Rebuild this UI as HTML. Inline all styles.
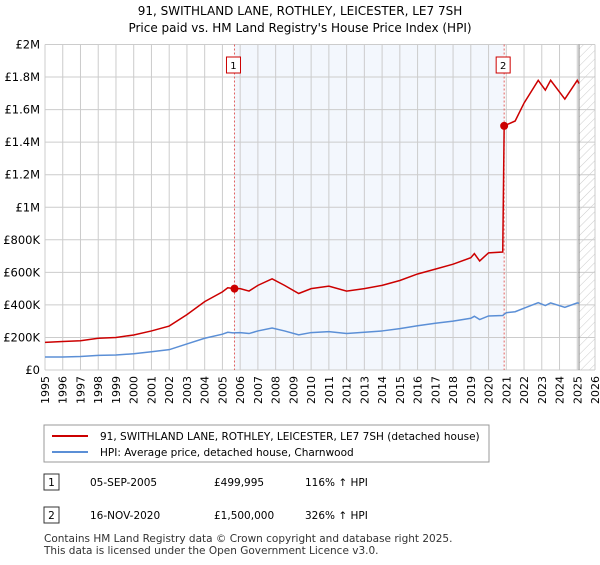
<!DOCTYPE html>
<html><head><meta charset="utf-8"><style>
body{margin:0;background:#fff;font-family:"Liberation Sans","DejaVu Sans",sans-serif;}
svg text{font-family:"DejaVu Sans","Liberation Sans",sans-serif;}
</style></head><body>
<svg id="c" width="600" height="560" xmlns="http://www.w3.org/2000/svg">
<defs><pattern id="hatch" width="6" height="6" patternUnits="userSpaceOnUse" patternTransform="rotate(45)"><line x1="0" y1="0" x2="0" y2="6" stroke="#ccc" stroke-width="1"/></pattern></defs>
<text x="300" y="15" text-anchor="middle" font-size="12">91, SWITHLAND LANE, ROTHLEY, LEICESTER, LE7 7SH</text>
<text x="300" y="32" text-anchor="middle" font-size="12">Price paid vs. HM Land Registry's House Price Index (HPI)</text>
<g id="plot"></g>
<rect x="44" y="425" width="445" height="37" fill="#fff" stroke="#999"/>
<line x1="52" y1="436" x2="88" y2="436" stroke="#cc0000" stroke-width="2"/>
<text x="100" y="440" font-size="10.5">91, SWITHLAND LANE, ROTHLEY, LEICESTER, LE7 7SH (detached house)</text>
<line x1="52" y1="452" x2="88" y2="452" stroke="#5b8fd6" stroke-width="2"/>
<text x="100" y="456" font-size="10.5">HPI: Average price, detached house, Charnwood</text>
<rect x="44" y="474" width="15" height="16" fill="#fff" stroke="#333"/>
<text x="51.5" y="486" text-anchor="middle" font-size="10.5">1</text>
<text x="90" y="486" font-size="10.5">05-SEP-2005</text>
<text x="214" y="486" font-size="10.5">£499,995</text>
<text x="305" y="486" font-size="10.5">116% ↑ HPI</text>
<rect x="44" y="507" width="15" height="16" fill="#fff" stroke="#333"/>
<text x="51.5" y="519" text-anchor="middle" font-size="10.5">2</text>
<text x="90" y="519" font-size="10.5">16-NOV-2020</text>
<text x="214" y="519" font-size="10.5">£1,500,000</text>
<text x="305" y="519" font-size="10.5">326% ↑ HPI</text>
<text x="44" y="542" font-size="10.5" fill="#333">Contains HM Land Registry data © Crown copyright and database right 2025.</text>
<text x="44" y="554" font-size="10.5" fill="#333">This data is licensed under the Open Government Licence v3.0.</text>
</svg>
<script>
const yTicks=[0,200,400,600,800,1000,1200,1400,1600,1800,2000];
const yLabels=["£0","£200K","£400K","£600K","£800K","£1M","£1.2M","£1.4M","£1.6M","£1.8M","£2M"];
const xYears=[1995,1996,1997,1998,1999,2000,2001,2002,2003,2004,2005,2006,2007,2008,2009,2010,2011,2012,2013,2014,2015,2016,2017,2018,2019,2020,2021,2022,2023,2024,2025,2026];
const hpiT=[1995,1996,1997,1998,1999,2000,2001,2002,2003,2004,2005,2005.3,2005.6,2006,2006.5,2007,2007.8,2008.5,2009.3,2010,2011,2012,2013,2014,2015,2016,2017,2018,2019,2019.2,2019.5,2020,2020.8,2021,2021.5,2022,2022.8,2023.2,2023.5,2024.3,2025,2025.1];
const hpiV=[80,80,83,90,92,100,112,125,160,195,220,232,228,230,224,240,258,240,216,230,236,224,232,240,254,272,287,300,318,330,310,332,335,352,358,380,414,396,412,385,412,410];
const redT=[1995,1996,1997,1998,1999,2000,2001,2002,2003,2004,2005,2005.3,2005.68,2006,2006.5,2007,2007.8,2008.5,2009.3,2010,2011,2012,2013,2014,2015,2016,2017,2018,2019,2019.2,2019.5,2020,2020.8,2020.88,2021.5,2022,2022.8,2023.2,2023.5,2024.3,2025,2025.1];
const redV=[170,175,180,195,200,215,240,270,340,420,480,505,500,500,485,520,560,520,470,500,515,485,500,520,550,590,620,650,690,715,670,720,725,1500,1530,1640,1780,1720,1780,1665,1780,1760];
const saleT=[2005.68,2020.88];
const saleV=[499.995,1500];
const X0=45,X1=595,Y0=370,Y1=44.5;
const xs=t=>X0+(t-1995)/31*(X1-X0);
const ys=v=>Y0-v/2000*(Y0-Y1);
const NS="http://www.w3.org/2000/svg",g=document.getElementById('plot');
function mk(tag,a){const e=document.createElementNS(NS,tag);for(const k in a)e.setAttribute(k,a[k]);g.appendChild(e);return e;}
let e=mk('rect',{x:xs(saleT[0]),y:Y1,width:xs(saleT[1])-xs(saleT[0]),height:Y0-Y1,fill:'#eef3fc',opacity:0.7});


e=mk('rect',{x:xs(2025.1),y:Y1,width:X1-xs(2025.1),height:Y0-Y1,fill:'url(#hatch)'});


xYears.forEach(yr=>{
 const l=mk('line',{x1:xs(yr),x2:xs(yr),y1:Y1,y2:Y0,stroke:'#cccccc'});
 
 
 const t=mk('text',{x:0,y:0,'font-size':11,'text-anchor':'end',transform:`translate(${xs(yr)+4},${Y0+6}) rotate(-90)`});
 t.textContent=yr;
 
 
});
yTicks.forEach((v,i)=>{
 const l=mk('line',{x1:X0,x2:X1,y1:ys(v),y2:ys(v),stroke:'#cccccc'});
 
 
 const t=mk('text',{x:X0-5,y:ys(v)+4,'font-size':11.5,'text-anchor':'end'});
 t.textContent=yLabels[i];
 
 
});
e=mk('line',{x1:xs(2025.1),x2:xs(2025.1),y1:Y1,y2:Y0,stroke:'#888'});


saleT.forEach((t,i)=>{
 const l=mk('line',{x1:xs(t),x2:xs(t),y1:Y1,y2:Y0,stroke:'#e06060','stroke-dasharray':'2,2'});
 
 
 const b=mk('rect',{x:xs(t)-8,y:57,width:14,height:16,fill:'#fff',stroke:'#cc0000'});
 
 
 const tx=mk('text',{x:xs(t)-1,y:69,'font-size':10,'text-anchor':'middle'});
 tx.textContent=String(i+1);
 
 
});
e=mk('polyline',{points:hpiT.map((t,i)=>xs(t)+','+ys(hpiV[i])).join(' '),fill:'none',stroke:'#5b8fd6','stroke-width':1.5});


e=mk('polyline',{points:redT.map((t,i)=>xs(t)+','+ys(redV[i])).join(' '),fill:'none',stroke:'#cc0000','stroke-width':1.5});


saleT.forEach((t,i)=>{
 const c=mk('circle',{cx:xs(t),cy:ys(saleV[i]),r:4,fill:'#cc0000'});
 
 
});
</script>
</body></html>
